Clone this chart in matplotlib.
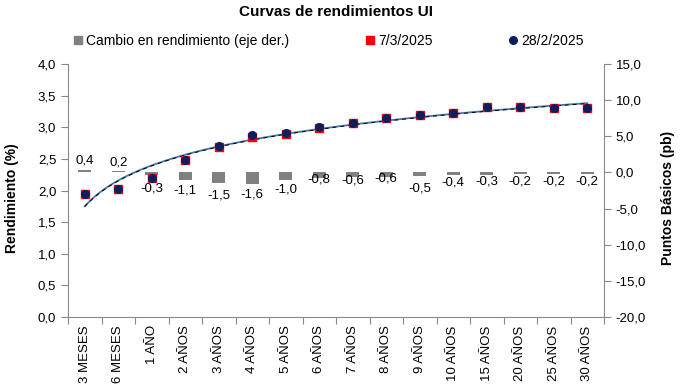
import numpy as np
import matplotlib.pyplot as plt
from matplotlib.ticker import FuncFormatter, MultipleLocator
from matplotlib.lines import Line2D

# datos
plazos = ['3 MESES', '6 MESES', '1 AÑO', '2 AÑOS', '3 AÑOS', '4 AÑOS', '5 AÑOS',
          '6 AÑOS', '7 AÑOS', '8 AÑOS', '9 AÑOS', '10 AÑOS', '15 AÑOS', '20 AÑOS',
          '25 AÑOS', '30 AÑOS']
rend_0703 = [1.94, 2.03, 2.20, 2.48, 2.69, 2.85, 2.90, 2.99, 3.06, 3.14, 3.19,
             3.23, 3.32, 3.32, 3.31, 3.30]
rend_2802 = [1.94, 2.03, 2.20, 2.49, 2.71, 2.87, 2.91, 3.00, 3.07, 3.15, 3.20,
             3.23, 3.32, 3.32, 3.31, 3.30]
cambio_pb = [0.4, 0.2, -0.3, -1.1, -1.5, -1.6, -1.0, -0.8, -0.6, -0.6, -0.5,
             -0.4, -0.3, -0.2, -0.2, -0.2]

# desplazamiento de etiquetas (px) desde el extremo de la barra
ajuste_etq = [9, 8, 14, 10, 12, 11, 10, 1, 4, 2, 12, 7, 7, 8, 8, 8]

plt.rcParams['font.family'] = ['Liberation Sans', 'DejaVu Sans']
plt.rcParams['font.size'] = 9

gris = '#898989'
coma = FuncFormatter(lambda v, p: f'{v:.1f}'.replace('.', ','))

fig = plt.figure(figsize=(6.85, 3.87), dpi=100)
ax = fig.add_axes([0.0993, 0.1809, 0.7825, 0.6537])
ax2 = ax.twinx()
ax.set_zorder(ax2.get_zorder() + 1)
ax.patch.set_visible(False)

x = np.arange(len(plazos))

# barras: cambio en pb (eje derecho)
ax2.bar(x, cambio_pb, width=0.4, color='#808080', zorder=2)
for xi, v, d in zip(x, cambio_pb, ajuste_etq):
    off = d * 0.72 if v >= 0 else -d * 0.72
    ax2.annotate(f'{v:.1f}'.replace('.', ','), (xi, v), xytext=(0, off),
                 textcoords='offset points', ha='center', va='center', fontsize=9.5)

# lineas de tendencia logaritmicas
xs = np.linspace(0, len(plazos) - 1, 200)
a1, b1 = np.polyfit(np.log(x + 1), rend_2802, 1)
a2, b2 = np.polyfit(np.log(x + 1), rend_0703, 1)
ax.plot(xs, a1 * np.log(xs + 1) + b1, color='#4a78a8', lw=1.3, zorder=3)
ax.plot(xs, a2 * np.log(xs + 1) + b2, color='black', lw=0.7, ls=(0, (4, 4)), zorder=4)

ax.plot(x, rend_0703, ls='none', marker='s', ms=5.5, color='#ff0000', zorder=5)
ax.plot(x, rend_2802, ls='none', marker='o', ms=5.5, color='#0b1f5c', zorder=6)

ax.set_xlim(-0.5, len(plazos) - 0.5)
ax.set_ylim(0, 4)
ax2.set_ylim(-20, 15)
ax.yaxis.set_major_locator(MultipleLocator(0.5))
ax2.yaxis.set_major_locator(MultipleLocator(5))
ax.yaxis.set_major_formatter(coma)
ax2.yaxis.set_major_formatter(coma)

ax.set_xticks(x)
ax.set_xticklabels(plazos, rotation=90, fontsize=9.5)
ax.set_xticks(np.r_[x - 0.5, x[-1] + 0.5], minor=True)
ax.tick_params(axis='x', which='major', length=0, pad=6)
ax.tick_params(axis='x', which='minor', length=5, color=gris, width=0.8)
ax.tick_params(axis='y', length=5, color=gris, width=0.8, labelsize=9.5)
ax2.tick_params(axis='y', length=5, color=gris, width=0.8, labelsize=9.5)

for s in ['top', 'right']:
    ax.spines[s].set_visible(False)
for s in ['top', 'left', 'bottom']:
    ax2.spines[s].set_visible(False)
for sp in [ax.spines['left'], ax.spines['bottom'], ax2.spines['right']]:
    sp.set_color(gris)
    sp.set_linewidth(0.8)

ax.set_ylabel('Rendimiento (%)', fontsize=10, fontweight='bold')
ax.yaxis.set_label_coords(-0.091, 0.47)
ax2.set_ylabel('Puntos Básicos (pb)', fontsize=10, fontweight='bold')
ax2.yaxis.set_label_coords(1.106, 0.47)

fig.text(0.49, 0.969, 'Curvas de rendimientos UI', ha='center', va='center',
         fontsize=11, fontweight='bold')

handles = [
    Line2D([], [], ls='none', marker='s', ms=5.5, color='#808080'),
    Line2D([], [], ls='none', marker='s', ms=5.5, color='#ff0000'),
    Line2D([], [], ls='none', marker='o', ms=5.5, color='#0b1f5c'),
]
fig.legend(handles, ['Cambio en rendimiento (eje der.)', '7/3/2025', '28/2/2025'],
           loc='center', bbox_to_anchor=(0.478, 0.894), ncol=3, frameon=False,
           fontsize=10, handletextpad=0.1, handlelength=1.0, columnspacing=5.3)

fig.savefig('out.png', dpi=100)
